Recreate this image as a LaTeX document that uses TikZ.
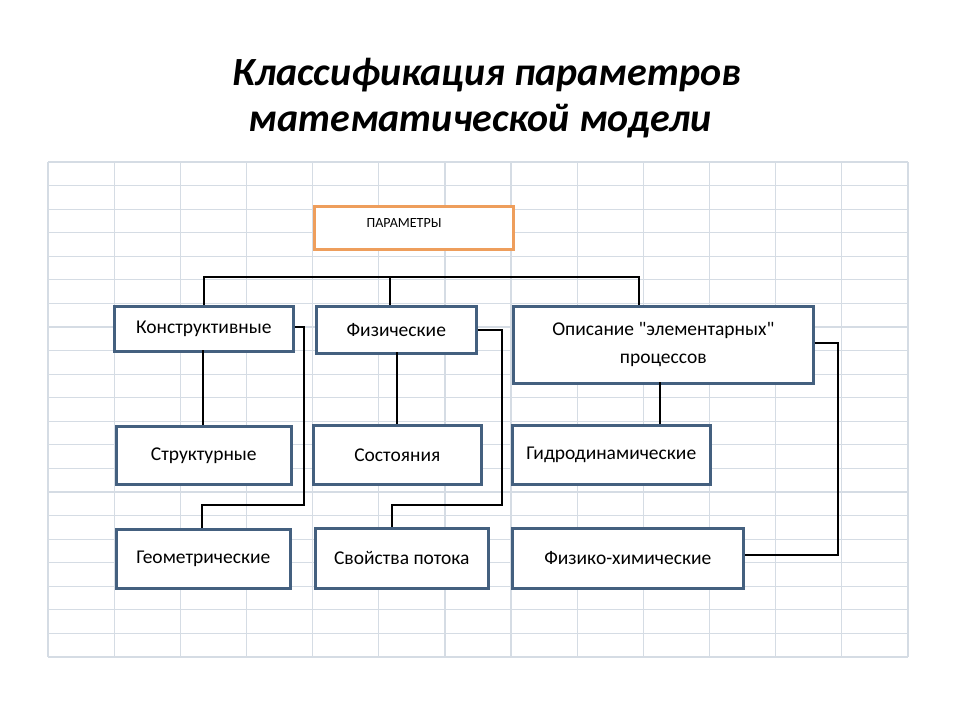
\documentclass[tikz,border=0pt]{standalone}
\usepackage{fontspec}
\setmainfont{Carlito}
\newfontfamily\qf{Carlito}
\begin{document}
\begin{tikzpicture}[x=1pt,y=-1pt,
 bx/.style={draw=boxc,line width=2.6pt,fill=white,inner sep=0pt,anchor=north west,font=\fontsize{19.5}{28}\selectfont,align=center},
 ln/.style={line width=1.3pt}]
\definecolor{boxc}{HTML}{44607F}
\definecolor{orc}{HTML}{EE9E5C}
\definecolor{gridc}{HTML}{D5DCE4}
\useasboundingbox (0,0) rectangle (960,720);
\fill[white] (0,0) rectangle (960,720);
\foreach \i in {0,...,13} \draw[gridc,line width=1.2pt] (48+\i*66.15,162) -- (48+\i*66.15,657);
\foreach \j in {0,...,21} \draw[gridc,line width=1.2pt] (48,162+\j*23.57) -- (908,162+\j*23.57);
\node[font=\fontsize{40}{48}\selectfont\bfseries\itshape] (t1) at (487,75) {Классификация параметров};
\node[font=\fontsize{40}{48}\selectfont\bfseries\itshape] (t2) at (480,121) {математической модели};
\node[draw=orc,line width=2.6pt,fill=white,anchor=north west,minimum width=199pt,minimum height=43pt,inner sep=0pt] (p) at (313,205) {};
\node[font=\fontsize{14}{16}\selectfont] (pt) at (404,223) {ПАРАМЕТРЫ};
\node[bx,minimum width=179pt,minimum height=45pt] (k) at (113,305) {Конструктивные};
\node[bx,minimum width=160pt,minimum height=47pt] (f) at (315,305) {Физические};
\node[bx,minimum width=300pt,minimum height=77pt] (o) at (512,305) {Описание {\qf"}элементарных{\qf"}\\процессов};
\node[bx,minimum width=175pt,minimum height=58pt] (s) at (115,425) {Структурные};
\node[bx,minimum width=168pt,minimum height=59pt] (c) at (312,424) {Состояния};
\node[bx,minimum width=198pt,minimum height=59pt] (g) at (511,424) {Гидродинамические};
\node[bx,minimum width=174pt,minimum height=59pt] (ge) at (115,528) {Геометрические};
\node[bx,minimum width=173pt,minimum height=60pt] (sp) at (314,527) {Свойства потока};
\node[bx,minimum width=231pt,minimum height=60pt] (fx) at (511,527) {Физико-химические};
\draw[ln] (204,305) -- (204,277) -- (639,277) -- (639,305);
\draw[ln] (390,277) -- (390,305);
\draw[ln] (203,350) -- (s.north -| 203,0);
\draw[ln] (397,352) -- (397,424);
\draw[ln] (660,382) -- (660,424);
\draw[ln] (k.east |- 0,327) -- (304,327) -- (304,505) -- (202,505) -- (202,528);
\draw[ln] (f.east |- 0,330) -- (502,330) -- (502,505) -- (392,505) -- (392,527);
\draw[ln] (o.east |- 0,343) -- (838,343) -- (838,555) -- (fx.east |- 0,555);
\end{tikzpicture}
\end{document}
